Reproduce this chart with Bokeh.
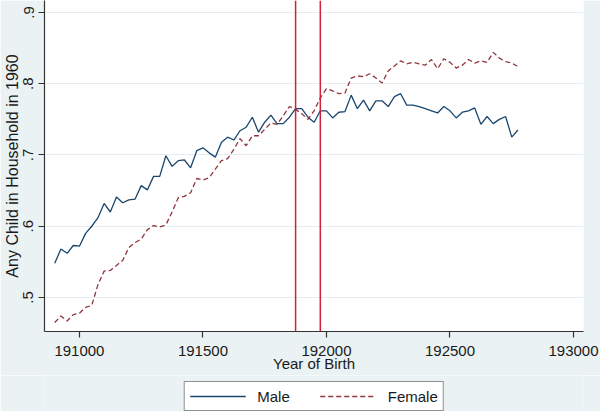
from bokeh.plotting import figure
from bokeh.layouts import column
from bokeh.models import Span, Legend, LegendItem, FixedTicker, Range1d
from bokeh.embed import file_html
from bokeh.resources import INLINE

birth = [190900, 190925, 190950, 190975, 191000, 191025, 191050, 191075,
         191100, 191125, 191150, 191175, 191200, 191225, 191250, 191275,
         191300, 191325, 191350, 191375, 191400, 191425, 191450, 191475,
         191500, 191525, 191550, 191575, 191600, 191625, 191650, 191675,
         191700, 191725, 191750, 191775, 191800, 191825, 191850, 191875,
         191900, 191925, 191950, 191975, 192000, 192025, 192050, 192075,
         192100, 192125, 192150, 192175, 192200, 192225, 192250, 192275,
         192300, 192325, 192350, 192375, 192400, 192425, 192450, 192475,
         192500, 192525, 192550, 192575, 192600, 192625, 192650, 192675,
         192700, 192725, 192750, 192775]

male = [0.548, 0.568, 0.562, 0.573, 0.572, 0.590, 0.600, 0.612, 0.632, 0.620,
        0.641, 0.633, 0.637, 0.638, 0.657, 0.651, 0.670, 0.670, 0.699, 0.684,
        0.692, 0.693, 0.682, 0.706, 0.710, 0.703, 0.697, 0.718, 0.725, 0.721,
        0.734, 0.739, 0.753, 0.732, 0.746, 0.756, 0.744, 0.744, 0.753, 0.765,
        0.765, 0.753, 0.746, 0.762, 0.762, 0.752, 0.760, 0.761, 0.784, 0.765,
        0.777, 0.762, 0.776, 0.776, 0.768, 0.782, 0.786, 0.770, 0.770, 0.768,
        0.765, 0.762, 0.759, 0.768, 0.762, 0.752, 0.760, 0.762, 0.766, 0.743,
        0.754, 0.744, 0.750, 0.754, 0.725, 0.735]

female = [0.465, 0.474, 0.467, 0.476, 0.478, 0.486, 0.489, 0.518, 0.537, 0.538,
          0.545, 0.552, 0.570, 0.577, 0.582, 0.595, 0.601, 0.599, 0.602, 0.620,
          0.640, 0.642, 0.647, 0.667, 0.665, 0.668, 0.680, 0.692, 0.695, 0.708,
          0.723, 0.713, 0.727, 0.727, 0.736, 0.745, 0.743, 0.755, 0.768, 0.764,
          0.758, 0.750, 0.762, 0.780, 0.793, 0.790, 0.786, 0.787, 0.808, 0.811,
          0.810, 0.814, 0.808, 0.801, 0.818, 0.825, 0.832, 0.828, 0.830, 0.828,
          0.826, 0.834, 0.821, 0.835, 0.830, 0.822, 0.826, 0.834, 0.829, 0.832,
          0.830, 0.844, 0.836, 0.831, 0.829, 0.824]

xline_values = [191875, 191975]

x_ticks = [191000, 191500, 192000, 192500, 193000]
x_tick_labels = ["191000", "191500", "192000", "192500", "193000"]
y_ticks = [0.5, 0.6, 0.7, 0.8, 0.9]
y_tick_labels = [".5", ".6", ".7", ".8", ".9"]

series_names = ["Male", "Female"]

BG = "#EAF2F3"
GRID = "#E4EDEF"
MALE_C = "#1A476F"
FEMALE_C = "#90353B"
XLINE_C = "#D0203A"
FONT = "Liberation Sans"
TXT = "#1A1A1A"
MALE_STYLE = dict(line_color=MALE_C, line_width=1.3)
FEMALE_STYLE = dict(line_color=FEMALE_C, line_width=1.3, line_dash="5 3")

# ---- main chart ----
p = figure(width=600, height=375, output_backend="svg", toolbar_location=None,
           x_range=Range1d(190858.6, 193040.4), y_range=Range1d(0.4523, 0.9168),
           min_border_left=43, min_border_right=17, min_border_top=0,
           min_border_bottom=44)
p.background_fill_color = "white"
p.border_fill_color = BG
p.outline_line_color = None

p.line(birth, male, **MALE_STYLE)
p.line(birth, female, **FEMALE_STYLE)

for xv in xline_values:
    p.add_layout(Span(location=xv, dimension="height", line_color=XLINE_C,
                      line_width=1.5))

p.xaxis.ticker = FixedTicker(ticks=x_ticks)
p.xaxis.major_label_overrides = dict(zip(x_ticks, x_tick_labels))
p.yaxis.ticker = FixedTicker(ticks=y_ticks)
p.yaxis.major_label_overrides = dict(zip(y_ticks, y_tick_labels))
p.yaxis.major_label_orientation = "vertical"

for ax in (p.xaxis[0], p.yaxis[0]):
    ax.axis_line_color = "#333333"
    ax.axis_line_width = 1.2
    ax.major_tick_line_color = "#333333"
    ax.major_tick_line_width = 1.2
    ax.major_tick_out = 6
    ax.major_tick_in = 0
    ax.minor_tick_line_color = None
    ax.major_label_text_font = FONT
    ax.major_label_text_font_size = "15px"
    ax.major_label_text_color = TXT
    ax.axis_label_text_font = FONT
    ax.axis_label_text_font_style = "normal"
    ax.axis_label_text_color = TXT

p.xaxis.axis_label = "Year of Birth"
p.xaxis.axis_label_text_font_size = "15px"
p.xaxis.major_label_standoff = 8
p.xaxis.axis_label_standoff = -4

p.yaxis.axis_label = "Any Child in Household in 1960"
p.yaxis.axis_label_text_font_size = "16px"
p.yaxis.major_label_standoff = 5
p.yaxis.axis_label_standoff = 0

p.xgrid.visible = False
p.ygrid.ticker = FixedTicker(ticks=y_ticks)
p.ygrid.grid_line_color = GRID
p.ygrid.grid_line_width = 1.2

# ---- legend strip (separate figure below the chart) ----
lg = figure(width=600, height=36, output_backend="svg", toolbar_location=None,
            x_range=Range1d(0, 1), y_range=Range1d(0, 1),
            x_axis_type=None, y_axis_type=None,
            min_border_left=43, min_border_right=17, min_border_top=0,
            min_border_bottom=0)
lg.background_fill_color = BG
lg.border_fill_color = BG
lg.outline_line_color = None
lg.xgrid.visible = False
lg.ygrid.visible = False

# same series, but outside this strip's ranges: only their legend keys show
k_m = lg.line(birth, male, **MALE_STYLE)
k_f = lg.line(birth, female, **FEMALE_STYLE)

legend = Legend(items=[LegendItem(label=series_names[0], renderers=[k_m]),
                       LegendItem(label=series_names[1], renderers=[k_f])],
                orientation="horizontal", location="top_center",
                border_line_color="#222222", border_line_width=1.2,
                background_fill_color="white", background_fill_alpha=1.0,
                label_text_font=FONT, label_text_font_size="15px",
                label_text_color=TXT, glyph_width=56, glyph_height=18,
                label_height=18, label_standoff=12, spacing=30, padding=5,
                margin=6)
lg.add_layout(legend, "center")

layout = column(p, lg, spacing=0)
open("out.html", "w").write(file_html(layout, INLINE))
